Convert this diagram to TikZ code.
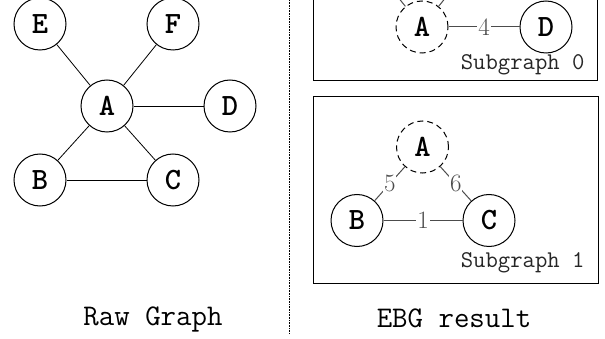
\documentclass[tikz,border=0pt]{standalone}
\begin{document}
\begin{tikzpicture}[x=1pt,y=-1pt,
  vtx/.style={circle,draw,line width=1pt,minimum size=52pt,inner sep=0pt,fill=white,
    font=\fontsize{31}{31}\selectfont\ttfamily\bfseries},
  ghost/.style={vtx,dashed,dash pattern=on 6pt off 4pt},
  edge/.style={line width=0.8pt},
  sedge/.style={line width=1pt,draw=black!70},
  wlab/.style={fill=white,inner sep=1pt,text=black!70,font=\fontsize{25}{25}\selectfont\rmfamily},
  captext/.style={anchor=base,font=\fontsize{30}{30}\selectfont\ttfamily},
  subtext/.style={anchor=base east,text=black!85,font=\fontsize{24}{24}\selectfont\ttfamily},
  box/.style={draw,line width=1pt}]
\useasboundingbox (0,0) rectangle (605,339);
\clip (0,0) rectangle (605,339);
% raw graph
\node[vtx] (E) at (40,24) {E};
\node[vtx] (F) at (173,24) {F};
\node[vtx] (A) at (107,106) {A};
\node[vtx] (D) at (230,106) {D};
\node[vtx] (B) at (40,180) {B};
\node[vtx] (C) at (173,180) {C};
\draw[edge] (A) -- (E);
\draw[edge] (A) -- (F);
\draw[edge] (A) -- (D);
\draw[edge] (A) -- (B);
\draw[edge] (A) -- (C);
\draw[edge] (B) -- (C);
\node[captext] (rawcap) at (153,325) {Raw Graph};
% separator
\coordinate (septop) at (289,0);
\coordinate (sepbot) at (289,333);
\draw[densely dotted,line width=0.6pt] (septop) -- (sepbot);
% subgraph 0
\draw[box] (313,-30) rectangle (597,81);
\node[ghost] (A0) at (422,27) {A};
\node[vtx] (D0) at (546,27) {D};
\coordinate (E0) at (356,-55);
\coordinate (F0) at (488,-55);
\draw[sedge] (A0) -- (E0);
\draw[sedge] (A0) -- (F0);
\draw[sedge] (A0) -- node[wlab] {4} (D0);
\node[subtext] (s0) at (588,70) {Subgraph 0};
% subgraph 1
\draw[box] (313,97) rectangle (598,283);
\node[ghost] (A1) at (422.5,147) {A};
\node[vtx] (B1) at (357,220.5) {B};
\node[vtx] (C1) at (489,220.5) {C};
\draw[sedge] (A1) -- node[wlab] {5} (B1);
\draw[sedge] (A1) -- node[wlab] {6} (C1);
\draw[sedge] (B1) -- node[wlab] {1} (C1);
\node[subtext] (s1) at (588,267) {Subgraph 1};
\node[captext] (ebgcap) at (454,327) {EBG result};
\end{tikzpicture}
\end{document}
